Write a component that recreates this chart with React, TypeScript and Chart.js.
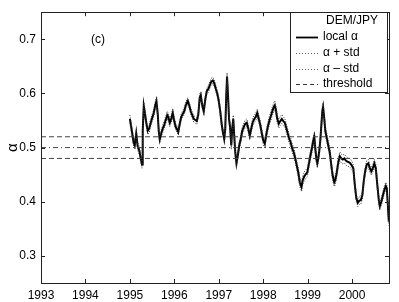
import React, { useEffect, useRef } from "react";
import { Chart, registerables } from "chart.js";

Chart.register(...registerables);

// ---- data ----
const YEARS = [
  1995.0, 1995.03, 1995.064, 1995.086, 1995.109, 1995.143, 1995.176, 1995.21, 1995.244, 1995.273,
  1995.289, 1995.312, 1995.334, 1995.368, 1995.402, 1995.435, 1995.469, 1995.503, 1995.537, 1995.57,
  1995.597, 1995.627, 1995.649, 1995.672, 1995.705, 1995.739, 1995.773, 1995.807, 1995.84, 1995.863,
  1995.897, 1995.93, 1995.964, 1995.998, 1996.032, 1996.066, 1996.088, 1996.122, 1996.156, 1996.189,
  1996.223, 1996.257, 1996.302, 1996.336, 1996.369, 1996.403, 1996.437, 1996.471, 1996.504, 1996.538,
  1996.572, 1996.594, 1996.628, 1996.662, 1996.696, 1996.73, 1996.763, 1996.797, 1996.831, 1996.865,
  1996.898, 1996.932, 1996.966, 1997.0, 1997.033, 1997.067, 1997.096, 1997.123, 1997.146, 1997.168,
  1997.186, 1997.209, 1997.231, 1997.254, 1997.281, 1997.303, 1997.326, 1997.348, 1997.371, 1997.398,
  1997.427, 1997.461, 1997.495, 1997.528, 1997.562, 1997.596, 1997.63, 1997.664, 1997.697, 1997.731,
  1997.765, 1997.799, 1997.832, 1997.866, 1997.9, 1997.934, 1997.967, 1998.001, 1998.035, 1998.069,
  1998.102, 1998.136, 1998.17, 1998.204, 1998.238, 1998.26, 1998.282, 1998.316, 1998.35, 1998.384,
  1998.418, 1998.451, 1998.485, 1998.519, 1998.553, 1998.586, 1998.62, 1998.654, 1998.688, 1998.721,
  1998.755, 1998.789, 1998.823, 1998.861, 1998.89, 1998.924, 1998.958, 1998.991, 1999.025, 1999.059,
  1999.093, 1999.127, 1999.149, 1999.172, 1999.194, 1999.217, 1999.239, 1999.262, 1999.284, 1999.307,
  1999.329, 1999.347, 1999.374, 1999.397, 1999.43, 1999.464, 1999.498, 1999.532, 1999.565, 1999.599,
  1999.622, 1999.655, 1999.689, 1999.723, 1999.757, 1999.791, 1999.825, 1999.858, 1999.892, 1999.926,
  1999.959, 1999.993, 2000.027, 2000.061, 2000.094, 2000.128, 2000.162, 2000.196, 2000.23, 2000.264,
  2000.297, 2000.331, 2000.365, 2000.398, 2000.432, 2000.466, 2000.5, 2000.533, 2000.567, 2000.601,
  2000.624, 2000.657, 2000.691, 2000.725, 2000.758, 2000.781, 2000.804, 2000.826,
];

const LOCAL_ALPHA = [
  0.553, 0.538, 0.52, 0.509, 0.504, 0.526, 0.502, 0.495, 0.48, 0.469,
  0.531, 0.577, 0.566, 0.546, 0.531, 0.535, 0.546, 0.555, 0.564, 0.578,
  0.586, 0.562, 0.531, 0.515, 0.526, 0.535, 0.542, 0.551, 0.56, 0.557,
  0.546, 0.553, 0.564, 0.549, 0.538, 0.533, 0.529, 0.544, 0.557, 0.562,
  0.567, 0.578, 0.586, 0.578, 0.567, 0.56, 0.553, 0.551, 0.549, 0.56,
  0.593, 0.597, 0.578, 0.567, 0.589, 0.604, 0.608, 0.615, 0.622, 0.624,
  0.619, 0.609, 0.6, 0.586, 0.567, 0.542, 0.527, 0.516, 0.535, 0.595,
  0.631, 0.595, 0.553, 0.538, 0.504, 0.535, 0.553, 0.522, 0.491, 0.471,
  0.485, 0.504, 0.516, 0.531, 0.538, 0.544, 0.546, 0.535, 0.522, 0.535,
  0.547, 0.553, 0.557, 0.564, 0.553, 0.542, 0.527, 0.513, 0.507, 0.524,
  0.538, 0.549, 0.558, 0.567, 0.575, 0.578, 0.571, 0.553, 0.544, 0.549,
  0.553, 0.549, 0.546, 0.536, 0.526, 0.516, 0.509, 0.498, 0.491, 0.48,
  0.467, 0.454, 0.436, 0.427, 0.44, 0.447, 0.451, 0.454, 0.469, 0.484,
  0.498, 0.513, 0.52, 0.498, 0.48, 0.471, 0.48, 0.495, 0.513, 0.54,
  0.567, 0.575, 0.553, 0.531, 0.518, 0.504, 0.491, 0.467, 0.447, 0.436,
  0.44, 0.454, 0.473, 0.484, 0.48, 0.478, 0.48, 0.476, 0.474, 0.473,
  0.471, 0.467, 0.462, 0.431, 0.407, 0.398, 0.402, 0.403, 0.412, 0.44,
  0.458, 0.469, 0.471, 0.462, 0.456, 0.462, 0.471, 0.462, 0.431, 0.403,
  0.392, 0.4, 0.411, 0.422, 0.429, 0.425, 0.394, 0.363,
];

// spread of the estimate per calendar year (read from the dotted band width)
const STD_YEARS = [1995, 1996, 1997, 1998, 1999, 2000];
const STD_VALUES = [0.007, 0.006, 0.007, 0.008, 0.008, 0.007];

const THRESHOLD_UPPER = 0.52;
const THRESHOLD_CENTER = 0.5;
const THRESHOLD_LOWER = 0.48;

const X_TICKS = [1993, 1994, 1995, 1996, 1997, 1998, 1999, 2000];
const Y_TICKS = [0.3, 0.4, 0.5, 0.6, 0.7];
const X_MIN = 1993;
const X_MAX = 2000.83;
const Y_MIN = 0.25;
const Y_MAX = 0.75;

const LEGEND_TITLE = "DEM/JPY";
const LEGEND_LABELS = ["local \u03b1", "\u03b1 + std", "\u03b1 \u2013 std", "threshold"];
const PANEL_LABEL = "(c)";
const Y_TITLE = "\u03b1";

const FONT = "'Liberation Sans', Arial, Helvetica, sans-serif";

function stdFor(year: number): number {
  let v = STD_VALUES[0];
  for (let i = 0; i < STD_YEARS.length; i++) if (year >= STD_YEARS[i]) v = STD_VALUES[i];
  return v;
}

const overlayPlugin = {
  id: "overlay",
  afterDraw(chart: any) {
    const { ctx, chartArea } = chart;
    const xs = chart.scales.x;
    const ys = chart.scales.y;
    const { left, right, top, bottom } = chartArea;
    ctx.save();
    // box
    ctx.strokeStyle = "#222";
    ctx.lineWidth = 1;
    ctx.strokeRect(Math.round(left) + 0.5, Math.round(top) + 0.5, Math.round(right - left), Math.round(bottom - top));
    // inward ticks
    const tl = 4;
    ctx.beginPath();
    X_TICKS.forEach((v) => {
      const px = Math.round(xs.getPixelForValue(v)) + 0.5;
      ctx.moveTo(px, bottom);
      ctx.lineTo(px, bottom - tl);
      ctx.moveTo(px, top);
      ctx.lineTo(px, top + tl);
    });
    Y_TICKS.forEach((v) => {
      const py = Math.round(ys.getPixelForValue(v)) + 0.5;
      ctx.moveTo(left, py);
      ctx.lineTo(left + tl, py);
      ctx.moveTo(right, py);
      ctx.lineTo(right - tl, py);
    });
    ctx.stroke();

    // y title
    ctx.fillStyle = "#000";
    ctx.save();
    ctx.translate(13, ys.getPixelForValue(0.5));
    ctx.rotate(-Math.PI / 2);
    ctx.font = `15px ${FONT}`;
    ctx.textAlign = "center";
    ctx.textBaseline = "middle";
    ctx.fillText(Y_TITLE, 0, 0);
    ctx.restore();

    // panel label
    ctx.font = `12px ${FONT}`;
    ctx.textAlign = "center";
    ctx.textBaseline = "middle";
    ctx.fillText(PANEL_LABEL, 98, ys.getPixelForValue(0.7));

    // legend
    const bx = 290.5, by = 12.5, bw = 97, bh = 80;
    ctx.fillStyle = "#fff";
    ctx.fillRect(bx, by, bw, bh);
    ctx.strokeStyle = "#222";
    ctx.strokeRect(bx, by, bw, bh);
    ctx.fillStyle = "#000";
    ctx.font = `12px ${FONT}`;
    ctx.textAlign = "left";
    ctx.textBaseline = "middle";
    const tx = 323;
    const rowY = [21, 37, 53, 69, 84];
    ctx.fillText(LEGEND_TITLE, 326, rowY[0]);
    const styles = [
      { dash: [] as number[], w: 1.8, c: "#000" },
      { dash: [1, 2], w: 1, c: "#666" },
      { dash: [1, 2], w: 1, c: "#666" },
      { dash: [4, 3], w: 1, c: "#333" },
    ];
    LEGEND_LABELS.forEach((lab, i) => {
      const y = rowY[i + 1];
      const s = styles[i];
      ctx.save();
      ctx.strokeStyle = s.c;
      ctx.lineWidth = s.w;
      ctx.setLineDash(s.dash);
      ctx.beginPath();
      ctx.moveTo(296, Math.round(y) + 0.5);
      ctx.lineTo(318, Math.round(y) + 0.5);
      ctx.stroke();
      ctx.restore();
      ctx.fillText(lab, tx, y);
    });
    ctx.restore();
  },
};

export default function App() {
  const ref = useRef<HTMLCanvasElement | null>(null);

  useEffect(() => {
    if (!ref.current) return;
    const main = YEARS.map((x, i) => ({ x, y: LOCAL_ALPHA[i] }));
    const plus = YEARS.map((x, i) => ({ x, y: LOCAL_ALPHA[i] + stdFor(x) }));
    const minus = YEARS.map((x, i) => ({ x, y: LOCAL_ALPHA[i] - stdFor(x) }));
    const hline = (v: number) => [
      { x: X_MIN, y: v },
      { x: X_MAX, y: v },
    ];
    const base = { pointRadius: 0, tension: 0, fill: false };
    const chart = new Chart(ref.current, {
      type: "line",
      data: {
        datasets: [
          { ...base, data: hline(THRESHOLD_UPPER), borderColor: "#444", borderWidth: 1, borderDash: [5, 3] },
          { ...base, data: hline(THRESHOLD_CENTER), borderColor: "#444", borderWidth: 1, borderDash: [5, 3, 1, 3] },
          { ...base, data: hline(THRESHOLD_LOWER), borderColor: "#444", borderWidth: 1, borderDash: [5, 3] },
          { ...base, data: plus, borderColor: "#333", borderWidth: 1, borderDash: [1, 1.5] },
          { ...base, data: minus, borderColor: "#333", borderWidth: 1, borderDash: [1, 1.5] },
          { ...base, data: main, borderColor: "#000", borderWidth: 2 },
        ],
      },
      options: {
        animation: false,
        responsive: false,
        devicePixelRatio: 1,
        parsing: false as any,
        layout: { padding: { top: 10, right: 10, left: 0, bottom: 0 } },
        plugins: { legend: { display: false }, tooltip: { enabled: false } },
        scales: {
          x: {
            type: "linear",
            min: X_MIN,
            max: X_MAX,
            grid: { display: false, drawTicks: false },
            border: { display: false },
            ticks: {
              color: "#000",
              font: { family: FONT, size: 12 },
              padding: 5,
              maxRotation: 0,
              autoSkip: false,
              callback: (v: any) => String(v),
            },
            afterBuildTicks: (s: any) => {
              s.ticks = X_TICKS.map((v) => ({ value: v }));
            },
            afterFit: (s: any) => {
              s.height = 19;
            },
          },
          y: {
            type: "linear",
            min: Y_MIN,
            max: Y_MAX,
            grid: { display: false, drawTicks: false },
            border: { display: false },
            ticks: {
              color: "#000",
              font: { family: FONT, size: 12 },
              padding: 5,
              callback: (v: any) => Number(v).toFixed(1),
            },
            afterBuildTicks: (s: any) => {
              s.ticks = Y_TICKS.map((v) => ({ value: v }));
            },
            afterFit: (s: any) => {
              s.width = 41;
            },
          },
        },
      },
      plugins: [overlayPlugin],
    });
    return () => chart.destroy();
  }, []);

  return (
    <div style={{ position: "fixed", left: 0, top: 0, width: 399, height: 302, background: "#fff" }}>
      <canvas ref={ref} width={399} height={302} style={{ width: 399, height: 302, display: "block" }} />
    </div>
  );
}
